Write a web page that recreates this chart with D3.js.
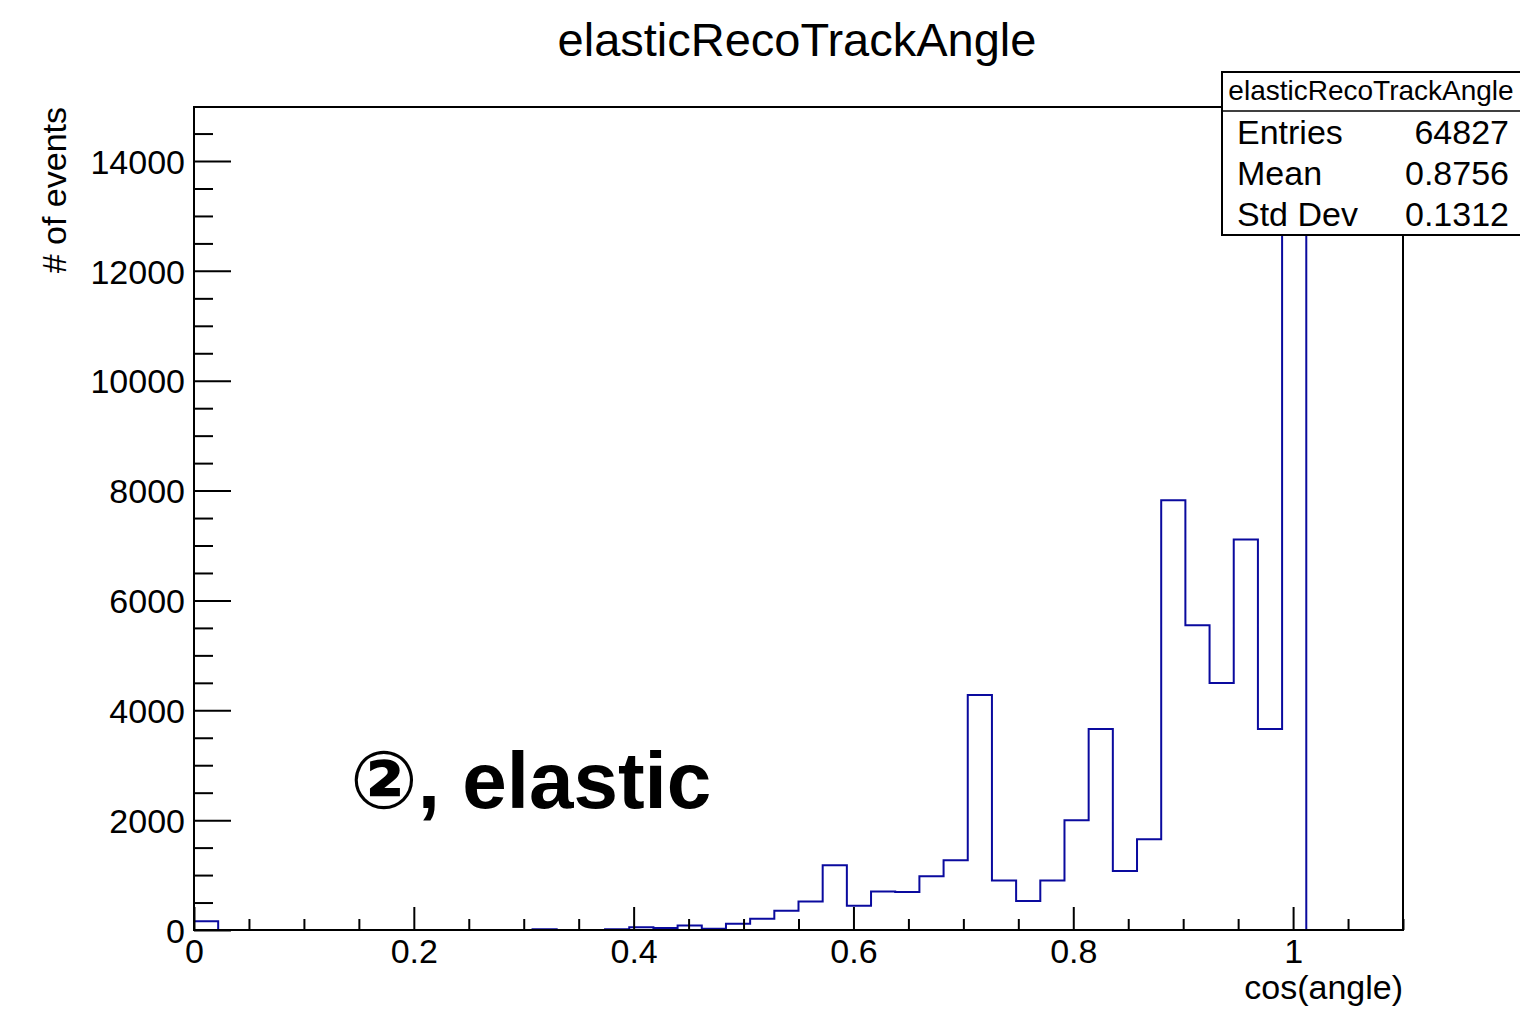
<!DOCTYPE html>
<html>
<head>
<meta charset="utf-8">
<script src="https://cdn.jsdelivr.net/npm/d3@7"></script>
<style>
  html, body { margin: 0; padding: 0; background: #fff; }
  svg { display: block; }
  text { font-family: "Liberation Sans", Arial, Helvetica, sans-serif; fill: #000; }
</style>
</head>
<body>
<div id="chart"></div>
<script>
//--------------------------------------------------
// datos
//--------------------------------------------------
const TITLE = "elasticRecoTrackAngle";
const X_LABEL = "cos(angle)";
const Y_LABEL = "# of events";
const NOTE = "②, elastic";

const X_MIN = 0, X_MAX = 1.1, N_BINS = 50;
const counts = [
  160, 0, 0, 0, 0, 0, 0, 0, 0, 0,
  0, 0, 0, 0, 12, 0, 0, 15, 50, 35,
  80, 25, 115, 205, 350, 520, 1180, 440, 700, 690,
  980, 1270, 4280, 900, 530, 900, 2000, 3660, 1075, 1650,
  7825, 5550, 4495, 7110, 3660, 14270, 0, 0, 0, 0
];

const statNames  = ["Entries", "Mean", "Std Dev"];
const statValues = ["64827", "0.8756", "0.1312"];

const xMajor = [0, 0.2, 0.4, 0.6, 0.8, 1];
const xMajorLabels = ["0", "0.2", "0.4", "0.6", "0.8", "1"];
const yMajor = [0, 2000, 4000, 6000, 8000, 10000, 12000, 14000];

//--------------------------------------------------
// estilo
//--------------------------------------------------
const W = 1520, H = 1010;
const M = { left: 194, right: 1403, top: 107, bottom: 930 };
const LINE = "#0a0a9e";

const svg = d3.select("#chart").append("svg")
  .attr("width", W).attr("height", H)
  .style("background", "#fff");

const x = d3.scaleLinear().domain([X_MIN, X_MAX]).range([M.left, M.right]);
const yMax = 1.05 * d3.max(counts);
const y = d3.scaleLinear().domain([0, yMax]).range([M.bottom, M.top]);

// minor ticks
const xMinor = d3.range(0, 1.1001, 0.05).filter(v => !xMajor.some(m => Math.abs(m - v) < 1e-6));
const yMinor = d3.range(0, yMax, 500).filter(v => v % 2000 !== 0);

//--------------------------------------------------
// histograma
//--------------------------------------------------
svg.append("clipPath").attr("id", "frame")
  .append("rect")
  .attr("x", M.left).attr("y", M.top)
  .attr("width", M.right - M.left).attr("height", M.bottom - M.top);

const bw = (X_MAX - X_MIN) / N_BINS;
const pts = [[X_MIN, 0]];
counts.forEach((c, i) => {
  pts.push([X_MIN + i * bw, c]);
  pts.push([X_MIN + (i + 1) * bw, c]);
});
pts.push([X_MAX, 0]);

svg.append("path")
  .attr("clip-path", "url(#frame)")
  .attr("d", d3.line().x(d => x(d[0])).y(d => y(d[1]))(pts))
  .attr("fill", "none")
  .attr("stroke", LINE)
  .attr("stroke-width", 2);

//--------------------------------------------------
// ejes (ticks hacia dentro, estilo ROOT)
//--------------------------------------------------
svg.append("g")
  .attr("transform", `translate(0,${M.bottom})`)
  .call(d3.axisBottom(x).tickValues(xMinor).tickSize(-11).tickFormat(""))
  .call(g => g.select(".domain").remove());

svg.append("g")
  .attr("transform", `translate(0,${M.bottom})`)
  .call(d3.axisBottom(x).tickValues(xMajor).tickSize(-23).tickPadding(10)
    .tickFormat((d, i) => xMajorLabels[i]))
  .call(g => g.select(".domain").remove())
  .call(g => g.selectAll("text")
    .attr("font-size", 34).attr("font-family", null)
    .attr("y", 33).attr("dy", 0));

svg.append("g")
  .attr("transform", `translate(${M.left},0)`)
  .call(d3.axisLeft(y).tickValues(yMinor).tickSize(-19).tickFormat(""))
  .call(g => g.select(".domain").remove());

svg.append("g")
  .attr("transform", `translate(${M.left},0)`)
  .call(d3.axisLeft(y).tickValues(yMajor).tickSize(-37).tickPadding(9)
    .tickFormat(d3.format("d")))
  .call(g => g.select(".domain").remove())
  .call(g => g.selectAll("text")
    .attr("font-size", 34).attr("font-family", null)
    .attr("dy", "0.36em"));

svg.selectAll(".tick line").attr("stroke", "#000").attr("stroke-width", 2);

// marco
svg.append("rect")
  .attr("x", M.left).attr("y", M.top)
  .attr("width", M.right - M.left).attr("height", M.bottom - M.top)
  .attr("fill", "none").attr("stroke", "#000").attr("stroke-width", 2);

//--------------------------------------------------
// textos
//--------------------------------------------------
svg.append("text")
  .attr("x", 797).attr("y", 56)
  .attr("text-anchor", "middle")
  .attr("font-size", 47)
  .text(TITLE);

svg.append("text")
  .attr("x", M.right).attr("y", 999)
  .attr("text-anchor", "end")
  .attr("font-size", 34)
  .text(X_LABEL);

svg.append("text")
  .attr("transform", `translate(66,${M.top}) rotate(-90)`)
  .attr("text-anchor", "end")
  .attr("font-size", 34)
  .text(Y_LABEL);

svg.append("text")
  .attr("x", 350).attr("y", 808)
  .attr("font-size", 80)
  .attr("font-weight", "bold")
  .style("font-family", "'Liberation Sans', 'DejaVu Sans', 'Noto Sans CJK JP', sans-serif")
  .text(NOTE);

//--------------------------------------------------
// caja de estadísticas
//--------------------------------------------------
const sb = { x: 1222, y: 72, w: 310, h: 163, sep: 111 };
const stats = svg.append("g");
stats.append("rect")
  .attr("x", sb.x).attr("y", sb.y).attr("width", sb.w).attr("height", sb.h)
  .attr("fill", "#fff").attr("stroke", "#000").attr("stroke-width", 2);
stats.append("line")
  .attr("x1", sb.x).attr("x2", sb.x + sb.w)
  .attr("y1", sb.sep).attr("y2", sb.sep)
  .attr("stroke", "#000").attr("stroke-width", 1.5);
stats.append("text")
  .attr("x", 1371).attr("y", 100)
  .attr("text-anchor", "middle")
  .attr("font-size", 28)
  .text(TITLE);

const rowY = [144, 185, 226];
statNames.forEach((n, i) => {
  stats.append("text").attr("x", 1237).attr("y", rowY[i])
    .attr("font-size", 34).text(n);
  stats.append("text").attr("x", 1509).attr("y", rowY[i])
    .attr("text-anchor", "end")
    .attr("font-size", 34).text(statValues[i]);
});
</script>
</body>
</html>
